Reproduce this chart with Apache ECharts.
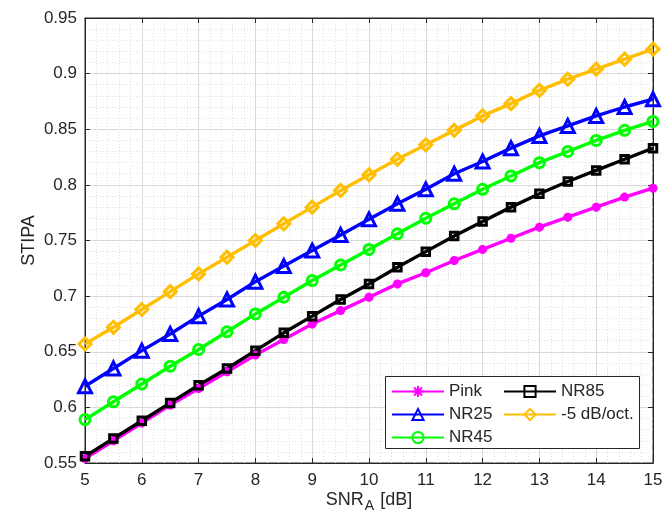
<!DOCTYPE html>
<html>
<head>
<meta charset="utf-8">
<script src="https://cdn.jsdelivr.net/npm/echarts@6/dist/echarts.min.js"></script>
<style>
  html, body { margin: 0; padding: 0; background: #ffffff; }
  #chart { width: 662px; height: 520px; }
</style>
</head>
<body>
<div id="chart"></div>
<script>
// SNR_A values in dB
const snr = [5, 5.5, 6, 6.5, 7, 7.5, 8, 8.5, 9, 9.5, 10, 10.5, 11, 11.5, 12, 12.5, 13, 13.5, 14, 14.5, 15];

// STIPA per noise spectrum
const pink   = [0.554, 0.570, 0.586, 0.602, 0.617, 0.632, 0.647, 0.661, 0.675, 0.687, 0.699, 0.711, 0.721, 0.732, 0.742, 0.752, 0.762, 0.771, 0.780, 0.789, 0.797];
const nr25   = [0.619, 0.635, 0.651, 0.666, 0.682, 0.697, 0.713, 0.727, 0.741, 0.755, 0.769, 0.783, 0.796, 0.810, 0.821, 0.833, 0.844, 0.853, 0.862, 0.870, 0.877];
const nr45   = [0.589, 0.605, 0.621, 0.637, 0.652, 0.668, 0.684, 0.699, 0.714, 0.728, 0.742, 0.756, 0.770, 0.783, 0.796, 0.808, 0.820, 0.830, 0.840, 0.849, 0.857];
const nr85   = [0.556, 0.572, 0.588, 0.604, 0.620, 0.635, 0.651, 0.667, 0.682, 0.697, 0.711, 0.726, 0.740, 0.754, 0.767, 0.780, 0.792, 0.803, 0.813, 0.823, 0.833];
const slope5 = [0.657, 0.672, 0.688, 0.704, 0.720, 0.735, 0.750, 0.765, 0.780, 0.795, 0.809, 0.823, 0.836, 0.849, 0.862, 0.873, 0.885, 0.895, 0.904, 0.913, 0.922];

// Axis ranges and tick spacing
const xRange = [5, 15];
const xStep = 1;
const yRange = [0.55, 0.95];
const yStep = 0.05;

const names = ['Pink', 'NR25', 'NR45', 'NR85', '-5 dB/oct.'];
const FONT = '"Liberation Sans", Arial, Helvetica, sans-serif';
const TXT = '#262626';

// asterisk marker
const starPath = 'path://M5,0L5,10M0,5L10,5M1.5,1.5L8.5,8.5M1.5,8.5L8.5,1.5';

function pairs(ys) { return snr.map((x, i) => [x, ys[i]]); }

function lineSeries(name, ys, color, symbol, size) {
  return {
    name: name,
    type: 'line',
    data: pairs(ys),
    symbol: symbol,
    symbolSize: size,
    showAllSymbol: true,
    lineStyle: { color: color, width: 3.4 },
    itemStyle: { color: 'rgba(255,255,255,0)', borderColor: color, borderWidth: 3 },
    emphasis: { disabled: true },
    animation: false
  };
}

const chart = echarts.init(document.getElementById('chart'), null, { renderer: 'canvas' });

const commonAxisLine = { show: true, lineStyle: { color: TXT, width: 1 } };

const legendCommon = {
  orient: 'vertical', top: 383, padding: 0,
  itemWidth: 52, itemHeight: 14, itemGap: 6,
  selectedMode: false, z: 10,
  textStyle: { fontSize: 17, color: TXT, fontFamily: FONT }
};

chart.setOption({
  backgroundColor: '#ffffff',
  textStyle: { fontFamily: FONT },
  grid: {
    left: 85, right: 9, top: 18, bottom: 57,
    outerBoundsMode: 'none', containLabel: false,
    show: true, backgroundColor: '#ffffff', borderColor: TXT, borderWidth: 1
  },
  xAxis: [{
    type: 'value', min: xRange[0], max: xRange[1], interval: xStep,
    position: 'bottom',
    name: '{m|SNR}{s|A}{m| [dB]}',
    nameLocation: 'middle', nameGap: 28, nameMoveOverlap: false,
    nameTextStyle: {
      rich: {
        m: { fontSize: 18, color: TXT, fontFamily: FONT, lineHeight: 22, verticalAlign: 'top' },
        s: { fontSize: 14, color: TXT, fontFamily: FONT, lineHeight: 14, verticalAlign: 'bottom', padding: [12, 1, 0, 1] }
      }
    },
    axisLine: commonAxisLine,
    axisTick: { show: true, inside: true, length: 5, lineStyle: { color: TXT } },
    axisLabel: { fontSize: 17, color: TXT, margin: 9, fontFamily: FONT },
    splitLine: { show: true, lineStyle: { color: '#d9d9d9', width: 1 } },
    minorTick: { show: false, splitNumber: 5 },
    minorSplitLine: { show: true, lineStyle: { color: '#e0e0e0', width: 1, type: [1, 2] } }
  }, {
    type: 'value', min: xRange[0], max: xRange[1], interval: xStep,
    position: 'top',
    axisLine: commonAxisLine,
    axisTick: { show: true, inside: true, length: 5, lineStyle: { color: TXT } },
    axisLabel: { show: false },
    splitLine: { show: false }
  }],
  yAxis: [{
    type: 'value', min: yRange[0], max: yRange[1], interval: yStep,
    position: 'left',
    name: 'STIPA',
    nameLocation: 'middle', nameGap: 47, nameRotate: 90, nameMoveOverlap: false,
    nameTextStyle: { fontSize: 18, color: TXT, fontFamily: FONT },
    axisLine: commonAxisLine,
    axisTick: { show: true, inside: true, length: 5, lineStyle: { color: TXT } },
    axisLabel: { fontSize: 17, color: TXT, margin: 8, fontFamily: FONT },
    splitLine: { show: true, lineStyle: { color: '#d9d9d9', width: 1 } },
    minorTick: { show: false, splitNumber: 5 },
    minorSplitLine: { show: true, lineStyle: { color: '#e0e0e0', width: 1, type: [1, 2] } }
  }, {
    type: 'value', min: yRange[0], max: yRange[1], interval: yStep,
    position: 'right',
    axisLine: commonAxisLine,
    axisTick: { show: true, inside: true, length: 5, lineStyle: { color: TXT } },
    axisLabel: { show: false },
    splitLine: { show: false }
  }],
  legend: [
    Object.assign({ data: names.slice(0, 3), left: 391 }, legendCommon),
    Object.assign({ data: names.slice(3), left: 503 }, legendCommon)
  ],
  graphic: [{
    type: 'rect', z: 8,
    shape: { x: 385.5, y: 376.5, width: 254, height: 72 },
    style: { fill: '#ffffff', stroke: TXT, lineWidth: 1 }
  }],
  series: [
    lineSeries(names[0], pink, '#ff00ff', starPath, 9),
    lineSeries(names[1], nr25, '#0000ff', 'triangle', 13),
    lineSeries(names[2], nr45, '#00ff00', 'circle', 10),
    lineSeries(names[3], nr85, '#000000', 'rect', 7.5),
    lineSeries(names[4], slope5, '#ffbf00', 'diamond', 12)
  ]
});
</script>
</body>
</html>
